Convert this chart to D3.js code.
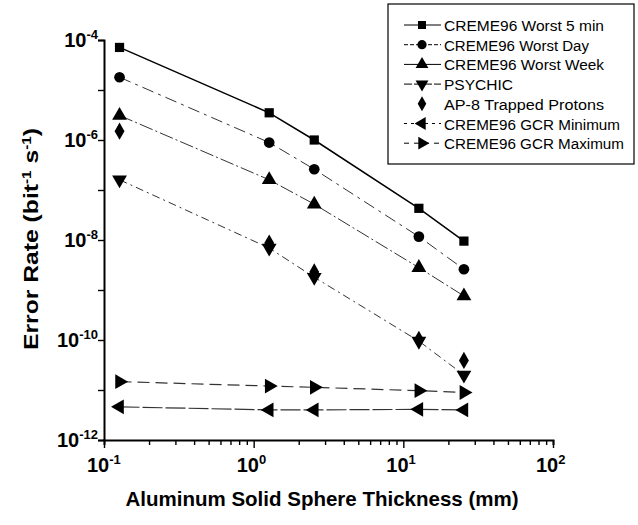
<!DOCTYPE html>
<html><head><meta charset="utf-8">
<script src="https://cdn.jsdelivr.net/npm/d3@7"></script>
<style>body{margin:0;background:#fff}svg{display:block}text{font-family:"Liberation Sans",Arial,sans-serif;fill:#000}</style>
</head><body><svg id="c" width="638" height="525"></svg>
<script>
const thickness = [0.127, 1.27, 2.54, 12.7, 25.4];
const seriesNames = ["CREME96 Worst 5 min","CREME96 Worst Day","CREME96 Worst Week","PSYCHIC","AP-8 Trapped Protons","CREME96 GCR Minimum","CREME96 GCR Maximum"];
const worst5min = [7.1e-5, 3.5e-6, 1.0e-6, 4.3e-8, 9.5e-9];
const worstDay = [1.8e-5, 8.9e-7, 2.6e-7, 1.17e-8, 2.6e-9];
const worstWeek = [3.1e-6, 1.6e-7, 5.2e-8, 2.8e-9, 7.6e-10];
const psychic = [1.6e-7, 6.9e-9, 1.8e-9, 9.5e-11, 2.0e-11];
const ap8 = [1.5e-6, 8.7e-9, 2.3e-9, 1.03e-10, 3.9e-11];
const gcrMin = [4.6e-12, 4.0e-12, 4.0e-12, 4.1e-12, 4.0e-12];
const gcrMax = [1.47e-11, 1.2e-11, 1.13e-11, 9.7e-12, 8.9e-12];
const xTickValues = [0.1, 1, 10, 100];
const xTickExp = ["-1","0","1","2"];
const yTickValues = [1e-12, 1e-10, 1e-8, 1e-6, 1e-4];
const yTickExp = ["-12","-10","-8","-6","-4"];

const seriesValues = [worst5min, worstDay, worstWeek, psychic, ap8, gcrMin, gcrMax];
const styles = [
  {sym:d3.symbolSquare, rot:0, dash:null, w:1.5, line:true, size:85, ldash:null},
  {sym:d3.symbolCircle, rot:0, dash:"12,5,3,5", w:1, line:true, size:90, ldash:"4,2"},
  {sym:d3.symbolTriangle, rot:0, dash:"14,3,2,3", w:1, line:true, size:95, ldash:null},
  {sym:d3.symbolTriangle, rot:180, dash:"8,4,2,4", w:1, line:true, size:95, ldash:"8,2"},
  {sym:d3.symbolDiamond, rot:0, dash:null, w:1, line:false, size:85, ldash:null},
  {sym:d3.symbolTriangle, rot:-90, dash:"20,3", w:1.2, line:true, size:95, ldash:"3,4"},
  {sym:d3.symbolTriangle, rot:90, dash:"12,6", w:1.2, line:true, size:95, ldash:"5,5"}
];
const legendTextWidths = [160, 145, 160, 69, 160, 176, 180];

const svg = d3.select("#c");
const x = d3.scaleLog().domain([0.1, 100]).range([104, 553]);
const y = d3.scaleLog().domain([1e-12, 1e-4]).range([440, 40]);

// axes
const xAxis = d3.axisBottom(x).tickValues(d3.range(1,10).map(d=>d*0.1).concat(d3.range(1,10), d3.range(10,100,10), [100]))
  .tickFormat("").tickSizeOuter(0).tickSize(5);
const gx = svg.append("g").attr("transform","translate(0,440)").call(xAxis);
gx.selectAll(".tick line").attr("y2", d=> xTickValues.includes(d) ? 8 : 5);
const yAxis = d3.axisLeft(y).tickValues(d3.range(-12,-3).map(e=>Math.pow(10,e))).tickFormat("").tickSizeOuter(0).tickSize(6);
const gy = svg.append("g").attr("transform","translate(104,0)").call(yAxis);
[gx,gy].forEach(g=>{g.select(".domain").attr("stroke","#000").attr("stroke-width",2);g.selectAll(".tick line").attr("stroke","#000").attr("stroke-width",1.4);});

// tick labels
xTickValues.forEach((v,i)=>{
  const t = svg.append("text").attr("x", x(v)-17).attr("y", 472).attr("font-size",20).attr("font-weight","bold");
  t.append("tspan").text("10");
  t.append("tspan").attr("dy",-8).attr("font-size",13).text(xTickExp[i]);
});
yTickValues.forEach((v,i)=>{
  const t = svg.append("text").attr("x", 98).attr("y", y(v)+7).attr("text-anchor","end").attr("font-size",20).attr("font-weight","bold");
  t.append("tspan").text("10");
  t.append("tspan").attr("dy",-8).attr("font-size",13).text(yTickExp[i]);
});

// axis titles
svg.append("text").attr("x",322).attr("y",506).attr("text-anchor","middle").attr("font-size",21).attr("font-weight","bold")
  .attr("textLength",393).attr("lengthAdjust","spacingAndGlyphs")
  .text("Aluminum Solid Sphere Thickness (mm)");
const yt = svg.append("text").attr("transform","translate(38,239) rotate(-90)").attr("text-anchor","middle").attr("font-size",21).attr("font-weight","bold")
  .attr("textLength",222).attr("lengthAdjust","spacingAndGlyphs");
yt.append("tspan").text("Error Rate (bit");
yt.append("tspan").attr("dy",-7).attr("font-size",13).text("-1");
yt.append("tspan").attr("dy",7).text(" s");
yt.append("tspan").attr("dy",-7).attr("font-size",13).text("-1");
yt.append("tspan").attr("dy",7).text(")");

// series
const line = d3.line().x(d=>x(d[0])).y(d=>y(d[1]));
seriesValues.forEach((vals,i)=>{
  const st = styles[i];
  const pts = thickness.map((t,j)=>[t, vals[j]]);
  if (st.line) svg.append("path").attr("d", line(pts)).attr("fill","none").attr("stroke", i===0?"#000":"#333")
    .attr("stroke-width", st.w).attr("stroke-dasharray", st.dash);
  svg.append("g").selectAll("path").data(pts).join("path")
    .attr("d", d3.symbol().type(st.sym).size(st.size))
    .attr("transform", d=>`translate(${x(d[0])},${y(d[1])}) rotate(${st.rot})`)
    .attr("fill","#000");
});

// legend
svg.append("rect").attr("x",388).attr("y",4).attr("width",246).attr("height",160).attr("fill","#fff").attr("stroke","#000").attr("stroke-width",1.2);
seriesNames.forEach((n,i)=>{
  const st = styles[i];
  const cy = 25 + i*19.7;
  if (st.line) svg.append("line").attr("x1",404).attr("x2",441).attr("y1",cy).attr("y2",cy).attr("stroke","#000")
    .attr("stroke-width",1).attr("stroke-dasharray", st.ldash);
  svg.append("path").attr("d", d3.symbol().type(st.sym).size(st.size*0.75)).attr("transform",`translate(422,${cy}) rotate(${st.rot})`).attr("fill","#000");
  svg.append("text").attr("x",444).attr("y",cy+6).attr("font-size",15.5)
    .attr("textLength",legendTextWidths[i]).attr("lengthAdjust","spacingAndGlyphs").text(n);
});
</script></body></html>
